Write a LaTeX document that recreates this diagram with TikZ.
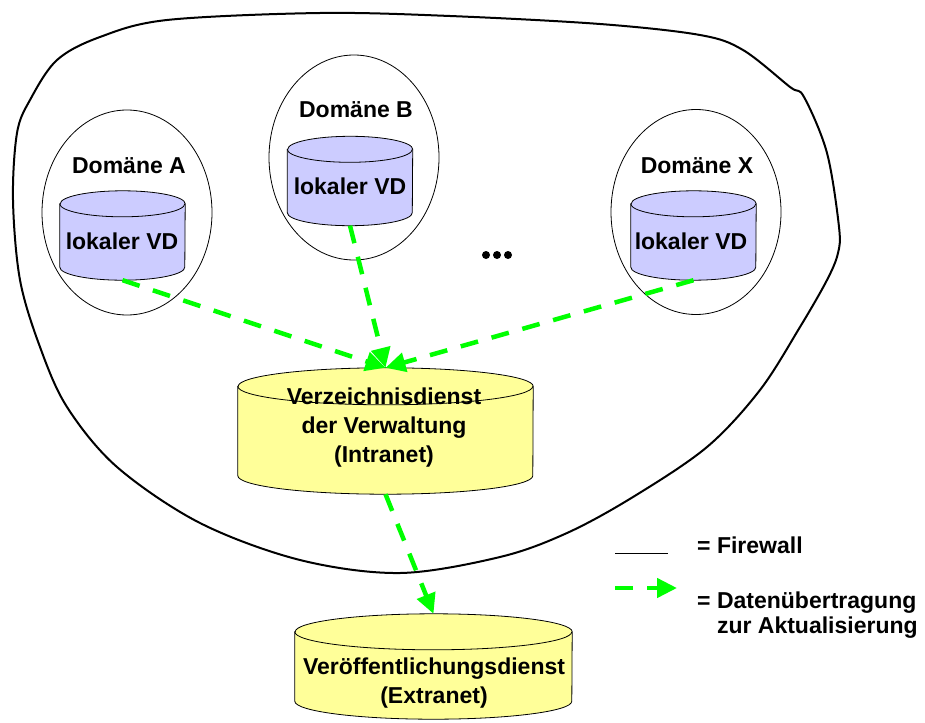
\documentclass[tikz,border=0pt]{standalone}
\usepackage{fontspec}
\setmainfont{Liberation Sans}
\usetikzlibrary{shapes.geometric,arrows.meta}

\definecolor{vdblue}{RGB}{204,204,255}
\definecolor{dbyellow}{RGB}{255,255,153}
\definecolor{updgreen}{RGB}{0,255,0}

% cylinder round a node: name, fill, half width, top/bottom radius
\newcommand{\dbcyl}[4]{%
  \draw[line width=0.8pt, fill=#2] ([yshift=-#4]#1.north west) -- ([yshift=#4]#1.south west)
    arc[start angle=180, end angle=360, x radius=#3, y radius=#4]
    -- ([yshift=-#4]#1.north east)
    arc[start angle=0, end angle=180, x radius=#3, y radius=#4] -- cycle;
  \draw[line width=0.8pt] ([yshift=-#4]#1.north west)
    arc[start angle=180, end angle=360, x radius=#3, y radius=#4];
}

\tikzset{
  dbbox/.style={rectangle, inner sep=0pt},
  localvd/.style={dbbox, minimum width=125pt, minimum height=89pt},
  domainbox/.style={ellipse, draw, line width=0.8pt, minimum width=170pt, minimum height=205pt, inner sep=0pt},
  lbl/.style={font=\bfseries\fontsize{23}{29}\selectfont, align=center, anchor=base, inner sep=0pt},
  update/.style={draw=updgreen, line width=4.5pt, dash pattern=on 18pt off 14pt,
    -{Triangle[length=20pt,width=19pt,fill=updgreen]}},
}

\begin{document}
\begin{tikzpicture}[x=1pt, y=-1pt]
	\useasboundingbox (0,0) rectangle (925,722);
	% firewall
	\draw[line width=2pt] plot[smooth cycle, tension=0.55] coordinates {
		(100,37) (167,20) (320,13) (450,16) (600,24) (700,35) (743,50) (790,87)
		(804,97) (827,153) (839,227) (838,253) (827,280) (800,327) (760,390)
		(707,447) (633,497) (567,533) (500,557) (400,573) (300,560) (200,523)
		(117,467) (67,407) (40,347) (20,280) (13,200) (17,133) (30,100) (57,60)};
	% domains
	\node[domainbox] (domA) at (127,212.5) {};
	\node[domainbox] (domB) at (354,157.5) {};
	\node[domainbox] (domX) at (696,212) {};
	\node[lbl] (domAtxt) at (129,174) {Domäne A};
	\node[lbl] (domBtxt) at (356,118) {Domäne B};
	\node[lbl] (domXtxt) at (697,173) {Domäne X};
	% local directories
	\node[localvd] (vdA) at (122.5,235.5) {};
	\node[localvd] (vdB) at (350,181) {};
	\node[localvd] (vdX) at (693.5,235.5) {};
	\dbcyl{vdA}{vdblue}{62.5pt}{13pt}
	\dbcyl{vdB}{vdblue}{62.5pt}{13pt}
	\dbcyl{vdX}{vdblue}{62.5pt}{13pt}
	\node[lbl] (vdAtxt) at (122,249) {lokaler VD};
	\node[lbl] (vdBtxt) at (350,194) {lokaler VD};
	\node[lbl] (vdXtxt) at (691,249) {lokaler VD};
	\foreach \dx in {486,497,508}
		\fill (\dx,255) circle (4);
	% central services
	\node[dbbox, minimum width=295pt, minimum height=126pt] (vzd) at (385.5,431) {};
	\dbcyl{vzd}{dbyellow}{147.5pt}{18.5pt}
	\node[lbl] (vzdtxt) at (384,462) {Verzeichnisdienst\\der Verwaltung\\(Intranet)};
	\node[dbbox, minimum width=277pt, minimum height=105pt] (vod) at (433.5,666.5) {};
	\dbcyl{vod}{dbyellow}{138.5pt}{18pt}
	\node[lbl] (vodtxt) at (434,703) {Veröffentlichungsdienst\\(Extranet)};
	% updates
	\draw[update] (vdA.south) -- (vzd.north);
	\draw[update] (vdB.south) -- (vzd.north);
	\draw[update] (vdX.south) -- (vzd.north);
	\draw[update] (vzd.south) -- (vod.north);
	% legend
	\coordinate (fw1) at (615,553);
	\coordinate (fw2) at (668,553);
	\coordinate (up1) at (615,588);
	\coordinate (up2) at (677,588);
	\draw[line width=0.8pt] (fw1) -- (fw2);
	\draw[update] (up1) -- (up2);
	\node[lbl, anchor=base west] (fwtxt) at (697,553) {= Firewall};
	\node[lbl, anchor=base west, align=left, font=\bfseries\fontsize{23}{25}\selectfont] (uptxt) at (697,633)
		{= Datenübertragung\\\phantom{= }zur Aktualisierung};
\end{tikzpicture}
\end{document}
